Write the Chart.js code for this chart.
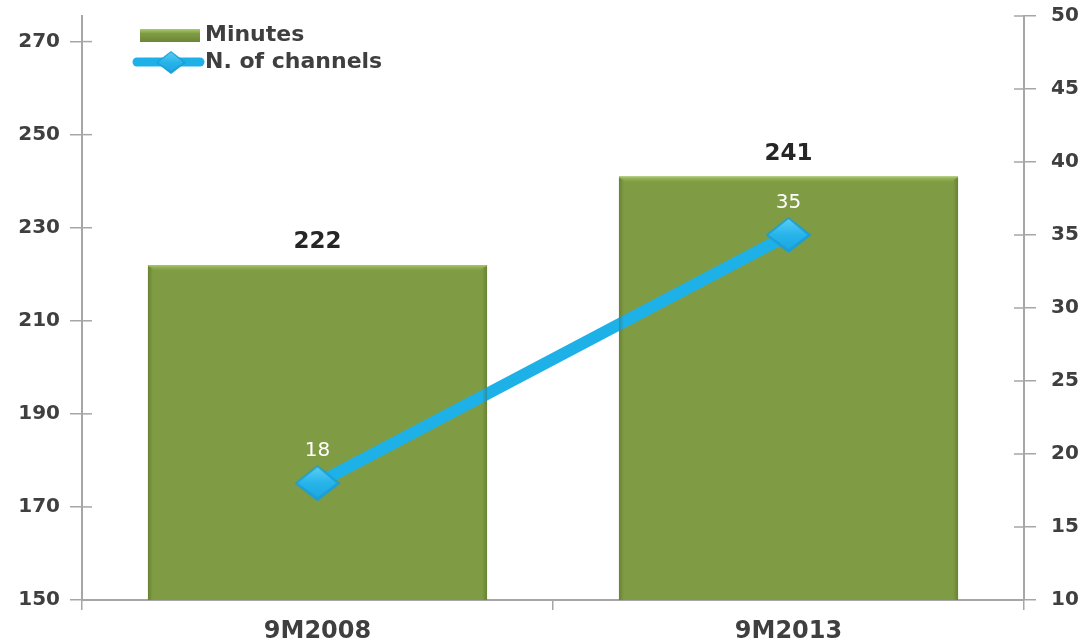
<!DOCTYPE html>
<html>
<head>
<meta charset="utf-8">
<script src="https://cdn.jsdelivr.net/npm/chart.js@4.4.1/dist/chart.umd.min.js"></script>
<style>
  html, body { margin: 0; padding: 0; background: #fff; }
  #wrap { width: 1080px; height: 642px; }
</style>
</head>
<body>
<div id="wrap"><canvas id="chart" width="1080" height="642"></canvas></div>
<script>
const categories = ['9M2008', '9M2013'];
const minutes = [222, 241];
const channels = [18, 35];
const seriesNames = ['Minutes', 'N. of channels'];
const minuteTicks = [150, 170, 190, 210, 230, 250, 270];
const channelTicks = [10, 15, 20, 25, 30, 35, 40, 45, 50];

const GREEN = '#7f9c44';
const GREEN_LIGHT = '#aacb6b';
const BLUE = '#1eb1e8';
const AXIS = '#a6a6a6';
const TICK_TEXT = '#3f3f3f';
const FONT = '"DejaVu Sans", Verdana, sans-serif';

// flattened, shaded diamond used as the line marker
function makeDiamond(w, h) {
  const c = document.createElement('canvas');
  c.width = w; c.height = h;
  const x = c.getContext('2d');
  const mx = w / 2, my = h / 2;
  x.fillStyle = '#1a9fd6';
  x.beginPath();
  x.moveTo(mx, 0); x.lineTo(w, my); x.lineTo(mx, h); x.lineTo(0, my);
  x.closePath();
  x.fill();
  const g = x.createLinearGradient(0, 0, 0, h);
  g.addColorStop(0, '#5fd0f5');
  g.addColorStop(0.5, '#27b4ea');
  g.addColorStop(1, '#1ba6de');
  x.fillStyle = g;
  x.beginPath();
  x.moveTo(mx, 2); x.lineTo(w - 4, my); x.lineTo(mx, h - 4); x.lineTo(3, my);
  x.closePath();
  x.fill();
  return c;
}
const diamond = makeDiamond(46, 36);

// bevelled top edge and soft side shading on the bars
const barBevel = {
  id: 'barBevel',
  afterDatasetsDraw(chart) {
    const { ctx, chartArea } = chart;
    const bottom = chartArea.bottom;
    chart.getDatasetMeta(1).data.forEach(bar => {
      const left = bar.x - bar.width / 2;
      const right = bar.x + bar.width / 2;
      const top = bar.y;
      ctx.save();
      const g = ctx.createLinearGradient(0, top, 0, top + 7);
      g.addColorStop(0, GREEN_LIGHT);
      g.addColorStop(1, 'rgba(127,156,68,0)');
      ctx.fillStyle = g;
      ctx.beginPath();
      ctx.moveTo(left, top);
      ctx.lineTo(right, top);
      ctx.lineTo(right - 7, top + 7);
      ctx.lineTo(left + 7, top + 7);
      ctx.closePath();
      ctx.fill();
      const gl = ctx.createLinearGradient(left, 0, left + 5, 0);
      gl.addColorStop(0, 'rgba(60,80,20,0.35)');
      gl.addColorStop(1, 'rgba(60,80,20,0)');
      ctx.fillStyle = gl;
      ctx.fillRect(left, top + 2, 5, bottom - top - 2);
      const gr = ctx.createLinearGradient(right - 5, 0, right, 0);
      gr.addColorStop(0, 'rgba(60,80,20,0)');
      gr.addColorStop(1, 'rgba(60,80,20,0.35)');
      ctx.fillStyle = gr;
      ctx.fillRect(right - 5, top + 2, 5, bottom - top - 2);
      ctx.restore();
    });
  }
};

// value labels above bars and line points
const valueLabels = {
  id: 'valueLabels',
  afterDatasetsDraw(chart) {
    const { ctx } = chart;
    ctx.save();
    ctx.textAlign = 'center';
    ctx.textBaseline = 'middle';
    ctx.font = 'bold 23px ' + FONT;
    ctx.fillStyle = '#262626';
    chart.getDatasetMeta(1).data.forEach((bar, i) => {
      ctx.fillText(String(minutes[i]), bar.x, bar.y - 23);
    });
    ctx.font = '20px ' + FONT;
    ctx.fillStyle = '#ffffff';
    chart.getDatasetMeta(0).data.forEach((pt, i) => {
      ctx.fillText(String(channels[i]), pt.x, pt.y - 32);
    });
    ctx.restore();
  }
};

// tick marks crossing the vertical axes, plus the custom legend
const axisDecor = {
  id: 'axisDecor',
  afterDraw(chart) {
    const { ctx, scales } = chart;
    ctx.save();
    ctx.strokeStyle = AXIS;
    ctx.lineWidth = 1.5;
    [['y', 1], ['y1', -1]].forEach(([id, dir]) => {
      const s = scales[id];
      const x = id === 'y' ? s.right : s.left;
      s.ticks.forEach(t => {
        const y = s.getPixelForValue(t.value);
        ctx.beginPath();
        ctx.moveTo(x, y);
        ctx.lineTo(x + dir * 10, y);
        ctx.stroke();
      });
    });

    // legend
    ctx.font = 'bold 22px ' + FONT;
    ctx.textBaseline = 'middle';
    const g = ctx.createLinearGradient(0, 29, 0, 42);
    g.addColorStop(0, GREEN_LIGHT);
    g.addColorStop(0.35, GREEN);
    g.addColorStop(1, '#6b8736');
    ctx.fillStyle = g;
    ctx.fillRect(140, 29, 60, 13);
    ctx.fillStyle = TICK_TEXT;
    ctx.fillText(seriesNames[0], 205, 35);

    ctx.strokeStyle = BLUE;
    ctx.lineWidth = 9;
    ctx.lineCap = 'round';
    ctx.beginPath();
    ctx.moveTo(137, 62);
    ctx.lineTo(200, 62);
    ctx.stroke();
    ctx.drawImage(diamond, 156, 51, 30, 23);
    ctx.fillStyle = TICK_TEXT;
    ctx.fillText(seriesNames[1], 205, 62);
    ctx.restore();
  }
};

const tickFont = { family: FONT, size: 20, weight: 'bold' };

new Chart(document.getElementById('chart'), {
  data: {
    labels: categories,
    datasets: [
      {
        type: 'line',
        label: seriesNames[1],
        data: channels,
        yAxisID: 'y1',
        borderColor: BLUE,
        borderWidth: 12,
        backgroundColor: BLUE,
        pointStyle: diamond,
        order: 0,
      },
      {
        type: 'bar',
        label: seriesNames[0],
        data: minutes,
        yAxisID: 'y',
        backgroundColor: GREEN,
        categoryPercentage: 0.8,
        barPercentage: 0.9,
        order: 1,
      }
    ]
  },
  plugins: [barBevel, valueLabels, axisDecor],
  options: {
    responsive: false,
    animation: false,
    layout: { padding: { top: 16, left: 0, right: 0, bottom: 0 } },
    plugins: {
      legend: { display: false },
      tooltip: { enabled: false },
    },
    scales: {
      x: {
        offset: true,
        grid: {
          offset: true,
          drawOnChartArea: false,
          drawTicks: true,
          tickLength: 10,
          color: AXIS,
          lineWidth: 1.5,
        },
        border: { color: AXIS, width: 2 },
        ticks: {
          color: TICK_TEXT,
          font: { family: FONT, size: 24, weight: 'bold' },
          padding: 7,
        },
        afterFit(scale) { scale.height = 42; },
      },
      y: {
        position: 'left',
        min: 150,
        max: 275.5,
        grid: { drawOnChartArea: false, tickLength: 12, color: AXIS, lineWidth: 1.5 },
        border: { color: AXIS, width: 2 },
        ticks: {
          color: TICK_TEXT,
          font: tickFont,
          padding: 10,
        },
        afterBuildTicks(scale) { scale.ticks = minuteTicks.map(v => ({ value: v })); },
        afterFit(scale) { scale.width = 82; scale.paddingTop = 0; scale.paddingBottom = 0; },
      },
      y1: {
        position: 'right',
        min: 10,
        max: 50,
        grid: { drawOnChartArea: false, tickLength: 12, color: AXIS, lineWidth: 1.5 },
        border: { color: AXIS, width: 2 },
        ticks: {
          color: TICK_TEXT,
          font: tickFont,
          padding: 15,
        },
        afterBuildTicks(scale) { scale.ticks = channelTicks.map(v => ({ value: v })); },
        afterFit(scale) { scale.width = 56; scale.paddingTop = 0; scale.paddingBottom = 0; },
      }
    }
  }
});
</script>
</body>
</html>
